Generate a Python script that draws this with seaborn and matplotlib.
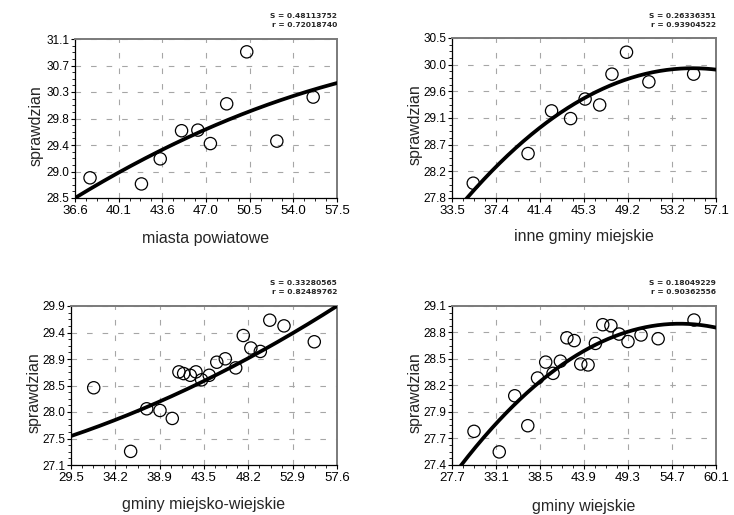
import numpy as np
import matplotlib
matplotlib.use("Agg")
import matplotlib.pyplot as plt
from matplotlib.ticker import AutoMinorLocator, FixedLocator
import seaborn as sns

sns.set_style("white")
plt.rcParams["font.family"] = ["Liberation Sans", "DejaVu Sans"]

# ---- data -----------------------------------------------------------------
groups = ["miasta powiatowe", "inne gminy miejskie",
          "gminy miejsko-wiejskie", "gminy wiejskie"]
y_name = "sprawdzian"

mp_x = [37.8, 41.9, 43.4, 45.1, 46.4, 47.4, 48.7, 50.3, 52.7, 55.6]
mp_y = [28.83, 28.73, 29.14, 29.60, 29.61, 29.39, 30.04, 30.89, 29.43, 30.15]

igm_x = [35.4, 40.3, 42.4, 44.1, 45.4, 46.7, 47.8, 49.1, 51.1, 55.1]
igm_y = [28.05, 28.55, 29.27, 29.14, 29.47, 29.37, 29.89, 30.26, 29.76, 29.89]

gmw_x = [31.9, 35.8, 37.5, 38.9, 40.2, 40.9, 41.4, 42.1, 42.7, 43.3,
         44.1, 44.9, 45.8, 46.9, 47.7, 48.5, 49.5, 50.5, 52.0, 55.2]
gmw_y = [28.46, 27.34, 28.09, 28.06, 27.92, 28.74, 28.71, 28.68, 28.74, 28.60,
         28.68, 28.91, 28.97, 28.81, 29.38, 29.16, 29.10, 29.65, 29.55, 29.27]

gw_x = [30.4, 33.5, 35.4, 37.0, 38.2, 39.2, 40.1, 41.0, 41.8, 42.7,
        43.5, 44.4, 45.3, 46.2, 47.2, 48.2, 49.3, 50.9, 53.0, 57.4]
gw_y = [27.76, 27.54, 28.14, 27.82, 28.33, 28.50, 28.38, 28.51, 28.76, 28.73,
        28.48, 28.47, 28.70, 28.90, 28.89, 28.80, 28.72, 28.79, 28.75, 28.95]

# quadratic regression curves: y = a + b*(x - c) + q*(x - c)**2
fit_center = [47.0, 55.0, 43.55, 44.0]
fit_a = [29.62, 29.99, 28.58, 28.625]
fit_b = [0.0901, 0.0, 0.0815, 0.04897]
fit_q = [-0.00169, -0.00539, 0.000887, -0.0021]

stat_s = ["0.48113752", "0.26336351", "0.33280565", "0.18049229"]
stat_r = ["0.72018740", "0.93904522", "0.82489762", "0.90362556"]

x_ticklabels = [
    ["36.6", "40.1", "43.6", "47.0", "50.5", "54.0", "57.5"],
    ["33.5", "37.4", "41.4", "45.3", "49.2", "53.2", "57.1"],
    ["29.5", "34.2", "38.9", "43.5", "48.2", "52.9", "57.6"],
    ["27.7", "33.1", "38.5", "43.9", "49.3", "54.7", "60.1"],
]
y_ticklabels = [
    ["28.5", "29.0", "29.4", "29.8", "30.3", "30.7", "31.1"],
    ["27.8", "28.2", "28.7", "29.1", "29.6", "30.0", "30.5"],
    ["27.1", "27.5", "28.0", "28.5", "28.9", "29.4", "29.9"],
    ["27.4", "27.7", "27.9", "28.2", "28.5", "28.8", "29.1"],
]

xs_all = [mp_x, igm_x, gmw_x, gw_x]
ys_all = [mp_y, igm_y, gmw_y, gw_y]

# ---- layout (pixels: left, top, right, bottom) -----------------------------
W, H = 734, 515
boxes = [(75, 39, 337, 198), (452, 38, 716, 198),
         (71, 306, 337, 465), (452, 306, 716, 465)]
xlabel_y = [238, 237, 505, 506]
ylabel_x = [36, 415, 34, 415]
stat_y = [(16, 25), (16, 25), (283, 292), (283, 292)]

fig = plt.figure(figsize=(W / 100, H / 100), dpi=100)
fig.patch.set_facecolor("white")

for i in range(4):
    l, t, r, b = boxes[i]
    ax = fig.add_axes([l / W, (H - b) / H, (r - l) / W, (b - t) / H])
    xlo, xhi = float(x_ticklabels[i][0]), float(x_ticklabels[i][-1])
    ylo, yhi = float(y_ticklabels[i][0]), float(y_ticklabels[i][-1])

    # regression curve
    xc = np.linspace(xlo, xhi, 300)
    u = xc - fit_center[i]
    yc = fit_a[i] + fit_b[i] * u + fit_q[i] * u ** 2
    sns.lineplot(x=xc, y=yc, ax=ax, color="black", linewidth=2.7, zorder=4)

    # observations
    sns.scatterplot(x=xs_all[i], y=ys_all[i], ax=ax, s=78, marker="o",
                    facecolor="none", edgecolor="black", linewidth=0.9,
                    zorder=3)

    ax.set_xlim(xlo, xhi)
    ax.set_ylim(ylo, yhi)
    ax.xaxis.set_major_locator(FixedLocator(np.linspace(xlo, xhi, 7)))
    ax.yaxis.set_major_locator(FixedLocator(np.linspace(ylo, yhi, 7)))
    ax.set_xticklabels(x_ticklabels[i])
    ax.set_yticklabels(y_ticklabels[i])
    ax.xaxis.set_minor_locator(AutoMinorLocator(4))
    ax.yaxis.set_minor_locator(AutoMinorLocator(4))
    ax.tick_params(which="major", direction="out", length=3, width=0.8,
                   pad=1, colors="black", left=True, bottom=True)
    ax.tick_params(axis="x", which="major", labelsize=9.5, pad=2)
    ax.tick_params(axis="y", which="major", labelsize=8.5)
    ax.tick_params(which="minor", direction="out", length=2.2, width=0.7,
                   left=True, bottom=True)

    ax.grid(True, which="major", color="#a6a6a6", linewidth=0.8,
            linestyle=(0, (5, 9)))
    ax.set_axisbelow(True)

    for side in ("left", "bottom"):
        ax.spines[side].set_color("black")
        ax.spines[side].set_linewidth(0.9)
    for side in ("top", "right"):
        ax.spines[side].set_color("#7a7a7a")
        ax.spines[side].set_linewidth(1.4)

    ax.set_xlabel(groups[i], fontsize=11.5, va="center")
    ax.set_ylabel(y_name, fontsize=11.5, va="center")
    ax.xaxis.set_label_coords(((l + r) / 2) / W, (H - xlabel_y[i]) / H,
                              transform=fig.transFigure)
    ax.yaxis.set_label_coords(ylabel_x[i] / W, (H - ((t + b) / 2 + 7)) / H,
                              transform=fig.transFigure)

    fig.text(r / W, (H - stat_y[i][0]) / H, f"S = {stat_s[i]}",
             ha="right", va="center", fontsize=5.4, fontweight="bold",
             family="DejaVu Sans")
    fig.text(r / W, (H - stat_y[i][1]) / H, f"r = {stat_r[i]}",
             ha="right", va="center", fontsize=5.4, fontweight="bold",
             family="DejaVu Sans")

fig.savefig("out.png", dpi=100, facecolor="white")
